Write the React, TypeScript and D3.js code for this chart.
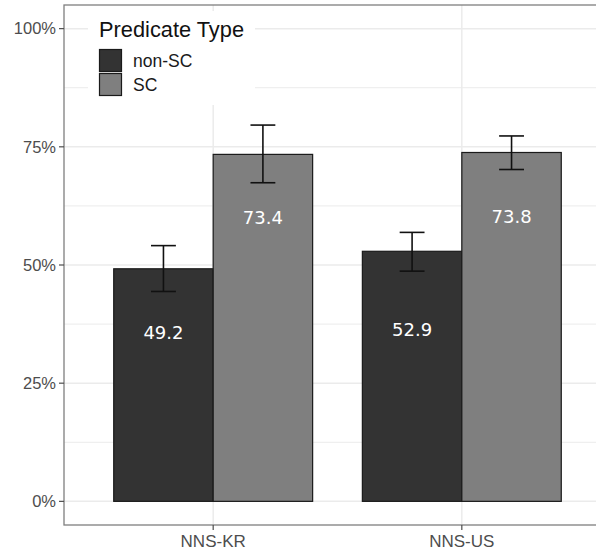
import React from "react";
import * as d3 from "d3";

const groups = ["NNS-KR", "NNS-US"];
const types = ["non-SC", "SC"];
// mean percentages per group, by predicate type
const nonScValues = [49.2, 52.9];
const scValues = [73.4, 73.8];
// 95% interval bounds
const nonScLower = [44.4, 48.7];
const nonScUpper = [54.1, 56.9];
const scLower = [67.4, 70.2];
const scUpper = [79.6, 77.3];
// where the value labels sit (percent scale)
const nonScLabelAt = [35.7, 36.4];
const scLabelAt = [60.0, 60.3];
const yTicks = [0, 25, 50, 75, 100];
const yMinor = [12.5, 37.5, 62.5, 87.5];
const fills = ["#333333", "#7f7f7f"];

const W = 596;
const H = 552;
const left = 64;
const top = 5;
const bottom = 525;
const right = 611;

export default function App() {
  const y = d3.scaleLinear().domain([-5, 105]).range([bottom, top]);
  const x = d3.scalePoint<string>().domain(groups).range([left, right]).padding(0.6);
  const step = x.step();
  const dodge = d3.scaleBand<string>().domain(types).range([-0.4 * step, 0.4 * step]);
  const capW = 0.1 * step;

  const series = [
    { type: types[0], values: nonScValues, lo: nonScLower, hi: nonScUpper, lab: nonScLabelAt },
    { type: types[1], values: scValues, lo: scLower, hi: scUpper, lab: scLabelAt },
  ];

  const font = "Liberation Sans, Arial, Helvetica, sans-serif";

  return (
    <svg width={W} height={H} style={{ display: "block", position: "absolute", left: 0, top: 0 }}>
      <rect x={0} y={0} width={W} height={H} fill="#fff" />
      {/* grid */}
      <g>
        {yMinor.map((t) => (
          <line key={"mi" + t} x1={left} x2={W} y1={y(t)} y2={y(t)} stroke="#ebebeb" strokeWidth={1} />
        ))}
        {yTicks.map((t) => (
          <line key={"ma" + t} x1={left} x2={W} y1={y(t)} y2={y(t)} stroke="#ebebeb" strokeWidth={1.5} />
        ))}
        {groups.map((g) => (
          <line key={"vg" + g} x1={x(g)} x2={x(g)} y1={top} y2={bottom} stroke="#ebebeb" strokeWidth={1.5} />
        ))}
      </g>
      {/* bars */}
      {series.map((s, si) =>
        groups.map((g, gi) => {
          const x0 = (x(g) as number) + (dodge(s.type) as number);
          return (
            <rect
              key={s.type + g}
              x={x0}
              y={y(s.values[gi])}
              width={dodge.bandwidth()}
              height={y(0) - y(s.values[gi])}
              fill={fills[si]}
              stroke="#1a1a1a"
              strokeWidth={1.2}
            />
          );
        })
      )}
      {/* error bars */}
      {series.map((s) =>
        groups.map((g, gi) => {
          const cx = (x(g) as number) + (dodge(s.type) as number) + dodge.bandwidth() / 2;
          return (
            <g key={"e" + s.type + g} stroke="#111" strokeWidth={1.6}>
              <line x1={cx} x2={cx} y1={y(s.lo[gi])} y2={y(s.hi[gi])} />
              <line x1={cx - capW / 2} x2={cx + capW / 2} y1={y(s.lo[gi])} y2={y(s.lo[gi])} />
              <line x1={cx - capW / 2} x2={cx + capW / 2} y1={y(s.hi[gi])} y2={y(s.hi[gi])} />
            </g>
          );
        })
      )}
      {/* value labels */}
      {series.map((s) =>
        groups.map((g, gi) => {
          const cx = (x(g) as number) + (dodge(s.type) as number) + dodge.bandwidth() / 2;
          return (
            <text
              key={"l" + s.type + g}
              x={cx}
              y={y(s.lab[gi])}
              dy="0.36em"
              textAnchor="middle"
              fill="#fff"
              fontFamily={"DejaVu Sans, sans-serif"}
              fontSize={18}
            >
              {s.values[gi].toFixed(1)}
            </text>
          );
        })
      )}
      {/* panel border */}
      <rect x={left} y={top} width={right - left} height={bottom - top} fill="none" stroke="#7f7f7f" strokeWidth={1.3} />
      {/* y axis */}
      {yTicks.map((t) => (
        <g key={"yt" + t}>
          <line x1={left - 5} x2={left} y1={y(t)} y2={y(t)} stroke="#4d4d4d" strokeWidth={1.2} />
          <text
            x={left - 8}
            y={y(t)}
            dy="0.35em"
            textAnchor="end"
            fill="#4d4d4d"
            fontFamily={font}
            fontSize={16.5}
          >
            {t + "%"}
          </text>
        </g>
      ))}
      {/* x axis */}
      {groups.map((g) => (
        <g key={"xt" + g}>
          <line x1={x(g)} x2={x(g)} y1={bottom} y2={bottom + 5} stroke="#4d4d4d" strokeWidth={1.2} />
          <text
            x={x(g)}
            y={bottom + 16}
            dy="0.35em"
            textAnchor="middle"
            fill="#4d4d4d"
            fontFamily={font}
            fontSize={17}
          >
            {g}
          </text>
        </g>
      ))}
      {/* legend */}
      <g>
        <rect x={88} y={11} width={167} height={94} fill="#fff" />
        <text x={99} y={36.5} fill="#111" fontFamily={font} fontSize={21.8}>
          Predicate Type
        </text>
        {types.map((t, i) => (
          <g key={"lg" + t}>
            <rect x={99.5} y={49.5 + i * 24} width={22} height={22} fill={fills[i]} stroke="#1a1a1a" strokeWidth={1.2} />
            <text x={133} y={66.5 + i * 24} fill="#1a1a1a" fontFamily={font} fontSize={17.5}>
              {t}
            </text>
          </g>
        ))}
      </g>
    </svg>
  );
}
